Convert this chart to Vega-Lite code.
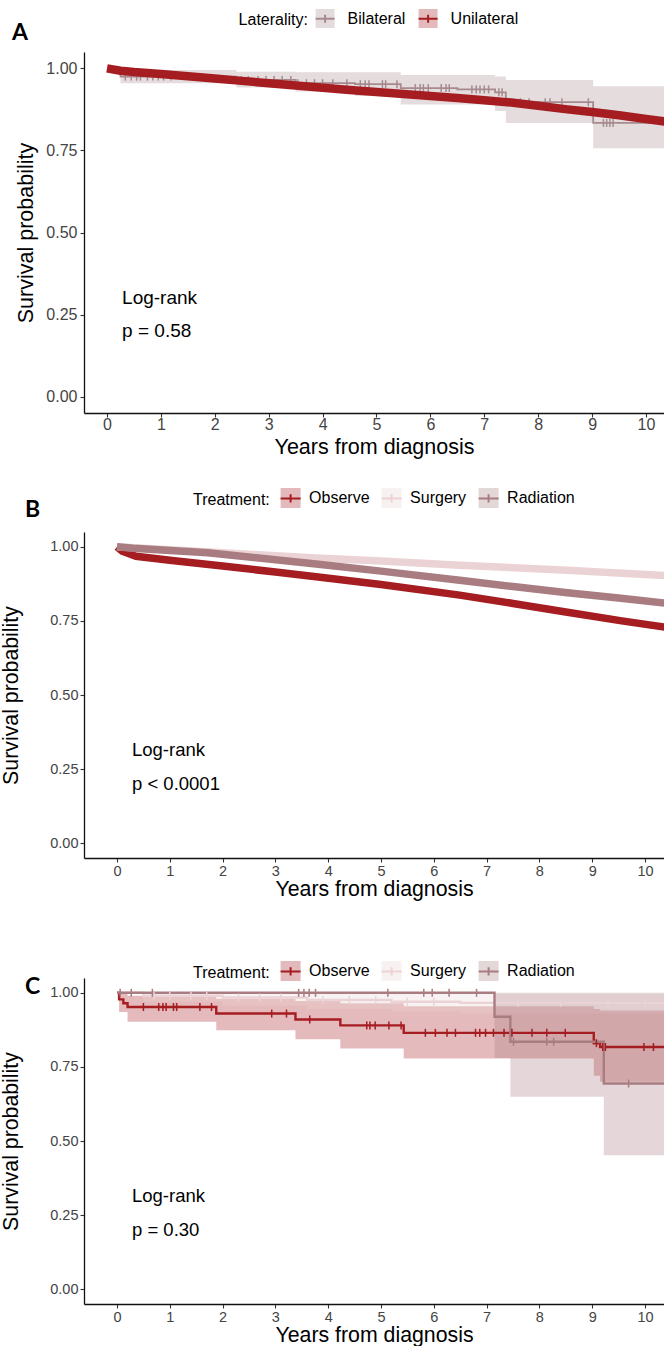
{
  "$schema": "https://vega.github.io/schema/vega-lite/v6.json",
  "background": "white",
  "padding": {"left": 0, "top": 8, "right": 0, "bottom": 0},
  "spacing": 29,
  "config": {
    "font": "Liberation Sans",
    "view": {"stroke": null},
    "axis": {"grid": false, "domainColor": "#111", "domainWidth": 1.3, "tickColor": "#333", "tickWidth": 1.1, "tickSize": 4, "labelColor": "#444", "titleColor": "#000", "titleFontWeight": "normal", "labelOverlap": false, "labelFlush": false},
    "legend": {"labelFont": "Liberation Sans", "titleFont": "Liberation Sans"}
  },
  "resolve": {"scale": {"fill": "independent", "stroke": "independent", "x": "independent", "y": "independent"}, "legend": {"fill": "independent", "stroke": "independent"}},
  "datasets": {
    "aBand": [
      {"g": "Bilateral", "t": 0, "lo": 1, "hi": 1},
      {"g": "Bilateral", "t": 0.25, "lo": 0.955, "hi": 0.995},
      {"g": "Bilateral", "t": 2.4, "lo": 0.942, "hi": 0.99},
      {"g": "Bilateral", "t": 3.5, "lo": 0.93, "hi": 0.988},
      {"g": "Bilateral", "t": 4.6, "lo": 0.916, "hi": 0.988},
      {"g": "Bilateral", "t": 5.45, "lo": 0.89, "hi": 0.98},
      {"g": "Bilateral", "t": 7.2, "lo": 0.87, "hi": 0.975},
      {"g": "Bilateral", "t": 7.4, "lo": 0.834, "hi": 0.965},
      {"g": "Bilateral", "t": 9.02, "lo": 0.757, "hi": 0.946},
      {"g": "Bilateral", "t": 10.6, "lo": 0.757, "hi": 0.946},
      {"g": "Unilateral", "t": 0, "lo": 1, "hi": 1}
    ],
    "aBil": [
      {"g": "Bilateral", "t": 0, "s": 1.0},
      {"g": "Bilateral", "t": 0.25, "s": 0.975},
      {"g": "Bilateral", "t": 2.4, "s": 0.965},
      {"g": "Bilateral", "t": 3.5, "s": 0.955},
      {"g": "Bilateral", "t": 4.6, "s": 0.952},
      {"g": "Bilateral", "t": 5.45, "s": 0.94},
      {"g": "Bilateral", "t": 6.5, "s": 0.936},
      {"g": "Bilateral", "t": 7.2, "s": 0.927},
      {"g": "Bilateral", "t": 7.4, "s": 0.897},
      {"g": "Bilateral", "t": 9.02, "s": 0.834},
      {"g": "Bilateral", "t": 10.6, "s": 0.834}
    ],
    "aCens": [
      {"g": "Bilateral", "t": 0.34, "s": 0.975}, {"g": "Bilateral", "t": 0.45, "s": 0.975}, {"g": "Bilateral", "t": 0.55, "s": 0.975},
      {"g": "Bilateral", "t": 0.62, "s": 0.975}, {"g": "Bilateral", "t": 0.75, "s": 0.975}, {"g": "Bilateral", "t": 0.85, "s": 0.975},
      {"g": "Bilateral", "t": 0.95, "s": 0.975}, {"g": "Bilateral", "t": 1.05, "s": 0.975}, {"g": "Bilateral", "t": 1.19, "s": 0.975},
      {"g": "Bilateral", "t": 2.49, "s": 0.965}, {"g": "Bilateral", "t": 2.62, "s": 0.965}, {"g": "Bilateral", "t": 2.8, "s": 0.965},
      {"g": "Bilateral", "t": 2.95, "s": 0.965}, {"g": "Bilateral", "t": 3.1, "s": 0.965}, {"g": "Bilateral", "t": 3.25, "s": 0.965},
      {"g": "Bilateral", "t": 3.41, "s": 0.965},
      {"g": "Bilateral", "t": 3.54, "s": 0.955}, {"g": "Bilateral", "t": 3.7, "s": 0.955}, {"g": "Bilateral", "t": 3.85, "s": 0.955},
      {"g": "Bilateral", "t": 4.0, "s": 0.955}, {"g": "Bilateral", "t": 4.19, "s": 0.955}, {"g": "Bilateral", "t": 4.45, "s": 0.955},
      {"g": "Bilateral", "t": 4.7, "s": 0.952}, {"g": "Bilateral", "t": 4.79, "s": 0.952}, {"g": "Bilateral", "t": 4.86, "s": 0.952},
      {"g": "Bilateral", "t": 5.11, "s": 0.952}, {"g": "Bilateral", "t": 5.17, "s": 0.952}, {"g": "Bilateral", "t": 5.38, "s": 0.952},
      {"g": "Bilateral", "t": 5.72, "s": 0.94}, {"g": "Bilateral", "t": 5.81, "s": 0.94}, {"g": "Bilateral", "t": 5.87, "s": 0.94},
      {"g": "Bilateral", "t": 5.96, "s": 0.94}, {"g": "Bilateral", "t": 6.2, "s": 0.94}, {"g": "Bilateral", "t": 6.29, "s": 0.94},
      {"g": "Bilateral", "t": 6.35, "s": 0.94},
      {"g": "Bilateral", "t": 6.77, "s": 0.936}, {"g": "Bilateral", "t": 6.85, "s": 0.936}, {"g": "Bilateral", "t": 6.92, "s": 0.936},
      {"g": "Bilateral", "t": 7.0, "s": 0.936}, {"g": "Bilateral", "t": 7.08, "s": 0.936},
      {"g": "Bilateral", "t": 7.27, "s": 0.927}, {"g": "Bilateral", "t": 7.33, "s": 0.927},
      {"g": "Bilateral", "t": 7.67, "s": 0.897}, {"g": "Bilateral", "t": 7.83, "s": 0.897}, {"g": "Bilateral", "t": 8.13, "s": 0.897},
      {"g": "Bilateral", "t": 8.22, "s": 0.897}, {"g": "Bilateral", "t": 8.44, "s": 0.897}, {"g": "Bilateral", "t": 8.93, "s": 0.897},
      {"g": "Bilateral", "t": 9.21, "s": 0.834}, {"g": "Bilateral", "t": 9.27, "s": 0.834}, {"g": "Bilateral", "t": 9.33, "s": 0.834},
      {"g": "Bilateral", "t": 9.39, "s": 0.834}
    ],
    "aUni": [
      {"g": "Unilateral", "t": 0, "s": 1.0}, {"g": "Unilateral", "t": 0.25, "s": 0.993}, {"g": "Unilateral", "t": 0.5, "s": 0.989},
      {"g": "Unilateral", "t": 1.0, "s": 0.983}, {"g": "Unilateral", "t": 1.5, "s": 0.976}, {"g": "Unilateral", "t": 2.0, "s": 0.969},
      {"g": "Unilateral", "t": 2.5, "s": 0.962}, {"g": "Unilateral", "t": 3.0, "s": 0.955}, {"g": "Unilateral", "t": 3.5, "s": 0.948},
      {"g": "Unilateral", "t": 4.0, "s": 0.941}, {"g": "Unilateral", "t": 4.5, "s": 0.934}, {"g": "Unilateral", "t": 5.0, "s": 0.928},
      {"g": "Unilateral", "t": 5.5, "s": 0.922}, {"g": "Unilateral", "t": 6.0, "s": 0.916}, {"g": "Unilateral", "t": 6.5, "s": 0.91},
      {"g": "Unilateral", "t": 7.0, "s": 0.903}, {"g": "Unilateral", "t": 7.5, "s": 0.896}, {"g": "Unilateral", "t": 8.0, "s": 0.886},
      {"g": "Unilateral", "t": 8.5, "s": 0.876}, {"g": "Unilateral", "t": 9.0, "s": 0.867}, {"g": "Unilateral", "t": 9.5, "s": 0.857},
      {"g": "Unilateral", "t": 10.0, "s": 0.846}, {"g": "Unilateral", "t": 10.5, "s": 0.835}
    ],
    "bBand": [
      {"g": "Observe", "ord": 1, "t": 0, "lo": 1, "hi": 1},
      {"g": "Surgery", "ord": 2, "t": 0, "lo": 1, "hi": 1},
      {"g": "Radiation", "ord": 3, "t": 0, "lo": 1, "hi": 1}
    ],
    "bLine": [
      {"g": "Observe", "t": 0, "s": 1.0}, {"g": "Observe", "t": 0.1, "s": 0.985}, {"g": "Observe", "t": 0.36, "s": 0.968},
      {"g": "Observe", "t": 1.04, "s": 0.954}, {"g": "Observe", "t": 2, "s": 0.935}, {"g": "Observe", "t": 3, "s": 0.915},
      {"g": "Observe", "t": 3.77, "s": 0.899}, {"g": "Observe", "t": 5, "s": 0.873}, {"g": "Observe", "t": 6.49, "s": 0.837},
      {"g": "Observe", "t": 7.5, "s": 0.809}, {"g": "Observe", "t": 8.53, "s": 0.779}, {"g": "Observe", "t": 9.56, "s": 0.75},
      {"g": "Observe", "t": 10.5, "s": 0.726},
      {"g": "Surgery", "t": 0, "s": 1.0}, {"g": "Surgery", "t": 1, "s": 0.99}, {"g": "Surgery", "t": 2, "s": 0.98},
      {"g": "Surgery", "t": 3.77, "s": 0.962}, {"g": "Surgery", "t": 5, "s": 0.952}, {"g": "Surgery", "t": 6.49, "s": 0.938},
      {"g": "Surgery", "t": 8.53, "s": 0.921}, {"g": "Surgery", "t": 10.5, "s": 0.902},
      {"g": "Radiation", "t": 0, "s": 1.0}, {"g": "Radiation", "t": 0.3, "s": 0.995}, {"g": "Radiation", "t": 1.72, "s": 0.98},
      {"g": "Radiation", "t": 3.77, "s": 0.942}, {"g": "Radiation", "t": 5, "s": 0.918}, {"g": "Radiation", "t": 6.49, "s": 0.887},
      {"g": "Radiation", "t": 7.5, "s": 0.866}, {"g": "Radiation", "t": 8.53, "s": 0.845}, {"g": "Radiation", "t": 9.5, "s": 0.827},
      {"g": "Radiation", "t": 10.5, "s": 0.808}
    ],
    "cBand": [
      {"g": "Observe", "ord": 1, "t": 0, "lo": 1, "hi": 1},
      {"g": "Observe", "ord": 1, "t": 0.04, "lo": 0.935, "hi": 1.0},
      {"g": "Observe", "ord": 1, "t": 0.2, "lo": 0.902, "hi": 0.99},
      {"g": "Observe", "ord": 1, "t": 1.88, "lo": 0.874, "hi": 0.98},
      {"g": "Observe", "ord": 1, "t": 3.38, "lo": 0.843, "hi": 0.972},
      {"g": "Observe", "ord": 1, "t": 4.23, "lo": 0.812, "hi": 0.965},
      {"g": "Observe", "ord": 1, "t": 5.43, "lo": 0.778, "hi": 0.955},
      {"g": "Observe", "ord": 1, "t": 9.03, "lo": 0.72, "hi": 0.945},
      {"g": "Observe", "ord": 1, "t": 9.15, "lo": 0.7, "hi": 0.94},
      {"g": "Observe", "ord": 1, "t": 10.6, "lo": 0.7, "hi": 0.94},
      {"g": "Surgery", "ord": 2, "t": 0, "lo": 1, "hi": 1},
      {"g": "Surgery", "ord": 2, "t": 0.5, "lo": 0.97, "hi": 1.0},
      {"g": "Surgery", "ord": 2, "t": 2.0, "lo": 0.957, "hi": 1.0},
      {"g": "Surgery", "ord": 2, "t": 3.6, "lo": 0.945, "hi": 0.998},
      {"g": "Surgery", "ord": 2, "t": 5.2, "lo": 0.937, "hi": 0.996},
      {"g": "Surgery", "ord": 2, "t": 6.5, "lo": 0.93, "hi": 0.995},
      {"g": "Surgery", "ord": 2, "t": 10.6, "lo": 0.93, "hi": 0.995},
      {"g": "Radiation", "ord": 3, "t": 0, "lo": 1, "hi": 1},
      {"g": "Radiation", "ord": 3, "t": 7.15, "lo": 0.78, "hi": 1.0},
      {"g": "Radiation", "ord": 3, "t": 7.45, "lo": 0.649, "hi": 1.0},
      {"g": "Radiation", "ord": 3, "t": 9.22, "lo": 0.452, "hi": 1.0},
      {"g": "Radiation", "ord": 3, "t": 10.6, "lo": 0.452, "hi": 1.0}
    ],
    "cLine": [
      {"g": "Observe", "t": 0, "s": 1.0}, {"g": "Observe", "t": 0.04, "s": 0.978}, {"g": "Observe", "t": 0.12, "s": 0.965},
      {"g": "Observe", "t": 0.2, "s": 0.952}, {"g": "Observe", "t": 1.88, "s": 0.93}, {"g": "Observe", "t": 3.38, "s": 0.91},
      {"g": "Observe", "t": 4.23, "s": 0.89}, {"g": "Observe", "t": 5.43, "s": 0.865}, {"g": "Observe", "t": 9.03, "s": 0.83},
      {"g": "Observe", "t": 9.15, "s": 0.817}, {"g": "Observe", "t": 10.6, "s": 0.817},
      {"g": "Surgery", "t": 0, "s": 1.0}, {"g": "Surgery", "t": 0.5, "s": 0.99}, {"g": "Surgery", "t": 2.0, "s": 0.984},
      {"g": "Surgery", "t": 3.6, "s": 0.976}, {"g": "Surgery", "t": 5.2, "s": 0.97}, {"g": "Surgery", "t": 6.5, "s": 0.966},
      {"g": "Surgery", "t": 10.6, "s": 0.966},
      {"g": "Radiation", "t": 0, "s": 1.0}, {"g": "Radiation", "t": 7.15, "s": 0.919}, {"g": "Radiation", "t": 7.45, "s": 0.835},
      {"g": "Radiation", "t": 9.22, "s": 0.694}, {"g": "Radiation", "t": 10.6, "s": 0.694}
    ],
    "cCens": [
      {"g": "Observe", "t": 0.5, "s": 0.952}, {"g": "Observe", "t": 0.79, "s": 0.952}, {"g": "Observe", "t": 0.87, "s": 0.952},
      {"g": "Observe", "t": 0.93, "s": 0.952}, {"g": "Observe", "t": 1.07, "s": 0.952}, {"g": "Observe", "t": 1.13, "s": 0.952},
      {"g": "Observe", "t": 1.57, "s": 0.952}, {"g": "Observe", "t": 1.79, "s": 0.952},
      {"g": "Observe", "t": 2.93, "s": 0.93}, {"g": "Observe", "t": 3.21, "s": 0.93},
      {"g": "Observe", "t": 3.65, "s": 0.91},
      {"g": "Observe", "t": 4.73, "s": 0.89}, {"g": "Observe", "t": 4.79, "s": 0.89}, {"g": "Observe", "t": 4.89, "s": 0.89},
      {"g": "Observe", "t": 5.15, "s": 0.89}, {"g": "Observe", "t": 5.38, "s": 0.89},
      {"g": "Observe", "t": 5.84, "s": 0.865}, {"g": "Observe", "t": 6.03, "s": 0.865}, {"g": "Observe", "t": 6.25, "s": 0.865},
      {"g": "Observe", "t": 6.41, "s": 0.865}, {"g": "Observe", "t": 6.79, "s": 0.865}, {"g": "Observe", "t": 6.87, "s": 0.865},
      {"g": "Observe", "t": 6.98, "s": 0.865}, {"g": "Observe", "t": 7.13, "s": 0.865}, {"g": "Observe", "t": 7.33, "s": 0.865},
      {"g": "Observe", "t": 7.48, "s": 0.865}, {"g": "Observe", "t": 7.86, "s": 0.865}, {"g": "Observe", "t": 8.14, "s": 0.865},
      {"g": "Observe", "t": 8.49, "s": 0.865},
      {"g": "Observe", "t": 9.08, "s": 0.83},
      {"g": "Observe", "t": 9.2, "s": 0.817}, {"g": "Observe", "t": 9.25, "s": 0.817}, {"g": "Observe", "t": 9.98, "s": 0.817},
      {"g": "Observe", "t": 10.16, "s": 0.817},
      {"g": "Surgery", "t": 0.7, "s": 0.99}, {"g": "Surgery", "t": 1.0, "s": 0.99}, {"g": "Surgery", "t": 1.4, "s": 0.99},
      {"g": "Surgery", "t": 1.7, "s": 0.99}, {"g": "Surgery", "t": 2.3, "s": 0.984}, {"g": "Surgery", "t": 2.7, "s": 0.984},
      {"g": "Surgery", "t": 3.1, "s": 0.984}, {"g": "Surgery", "t": 3.9, "s": 0.976}, {"g": "Surgery", "t": 4.4, "s": 0.976},
      {"g": "Surgery", "t": 4.9, "s": 0.976}, {"g": "Surgery", "t": 5.5, "s": 0.97}, {"g": "Surgery", "t": 6.0, "s": 0.97},
      {"g": "Surgery", "t": 7.6, "s": 0.966}, {"g": "Surgery", "t": 8.4, "s": 0.966}, {"g": "Surgery", "t": 9.3, "s": 0.966},
      {"g": "Surgery", "t": 10.0, "s": 0.966},
      {"g": "Radiation", "t": 0.06, "s": 1.0}, {"g": "Radiation", "t": 0.27, "s": 1.0}, {"g": "Radiation", "t": 0.67, "s": 1.0},
      {"g": "Radiation", "t": 3.44, "s": 1.0}, {"g": "Radiation", "t": 3.54, "s": 1.0}, {"g": "Radiation", "t": 3.64, "s": 1.0},
      {"g": "Radiation", "t": 3.76, "s": 1.0}, {"g": "Radiation", "t": 5.13, "s": 1.0}, {"g": "Radiation", "t": 5.81, "s": 1.0},
      {"g": "Radiation", "t": 5.97, "s": 1.0}, {"g": "Radiation", "t": 6.29, "s": 1.0}, {"g": "Radiation", "t": 6.81, "s": 1.0},
      {"g": "Radiation", "t": 7.51, "s": 0.835}, {"g": "Radiation", "t": 8.14, "s": 0.835}, {"g": "Radiation", "t": 8.27, "s": 0.835},
      {"g": "Radiation", "t": 9.69, "s": 0.694}
    ]
  },
  "vconcat": [
    {
      "width": 580, "height": 361,
      "title": {"text": "A", "anchor": "start", "frame": "group", "orient": "top", "fontSize": 23, "fontWeight": "bold", "font": "Lato", "color": "#000", "baseline": "alphabetic", "offset": -55, "dx": -72},
      "layer": [
        {
          "data": {"name": "aBand"},
          "mark": {"type": "area", "interpolate": "step-after", "fillOpacity": 0.3, "clip": true},
          "encoding": {
            "x": {"field": "t", "type": "quantitative", "title": "Years from diagnosis", "scale": {"domain": [-0.4267, 10.334], "nice": false, "zero": false},
                  "axis": {"values": [0,1,2,3,4,5,6,7,8,9,10], "labelFontSize": 16, "titleFontSize": 21.5, "labelPadding": -1, "titlePadding": 4.4}},
            "y": {"field": "lo", "type": "quantitative", "title": "Survival probability", "scale": {"domain": [-0.05, 1.05], "nice": false, "zero": false},
                  "axis": {"values": [0, 0.25, 0.5, 0.75, 1], "format": ".2f", "labelFontSize": 16, "titleFontSize": 21.5, "labelPadding": 3, "titlePadding": 8}},
            "y2": {"field": "hi"},
            "fill": {"field": "g", "type": "nominal", "scale": {"range": ["#A78A8E", "#A51C21"]},
                     "legend": {"orient": "none", "legendX": 154.6, "legendY": -44, "direction": "horizontal", "title": "Laterality:", "titleOrient": "left", "titlePadding": 6, "titleFontSize": 16, "titleFontWeight": "normal", "titleColor": "#000", "labelFontSize": 16, "labelColor": "#000", "labelOffset": 12, "columnPadding": 9, "symbolType": "square", "symbolSize": 361, "symbolOpacity": 0.3, "symbolStrokeColor": "transparent", "symbolStrokeWidth": 2, "padding": 0}}
          }
        },
        {
          "data": {"name": "aBil"},
          "mark": {"type": "line", "interpolate": "step-after", "strokeWidth": 1.8, "clip": true},
          "encoding": {
            "x": {"field": "t", "type": "quantitative", "title": "Years from diagnosis"},
            "y": {"field": "s", "type": "quantitative", "title": "Survival probability"},
            "stroke": {"field": "g", "type": "nominal", "scale": {"domain": ["Bilateral", "Unilateral"], "range": ["#A78A8E", "#A51C21"]},
                       "legend": {"orient": "none", "legendX": 154.6, "legendY": -44, "direction": "horizontal", "title": "Laterality:", "titleOrient": "left", "titlePadding": 6, "titleFontSize": 16, "titleFontWeight": "normal", "titleColor": "transparent", "labelFontSize": 16, "labelColor": "transparent", "labelOffset": 12, "columnPadding": 9, "symbolType": "M-1,0H1M0,-0.42V0.42", "symbolSize": 361, "symbolOpacity": 1, "symbolFillColor": "transparent", "symbolStrokeWidth": 2, "padding": 0}}
          }
        },
        {
          "data": {"name": "aCens"},
          "mark": {"type": "point", "shape": "M0,-1V1", "filled": false, "size": 64, "strokeWidth": 1.5, "opacity": 1, "clip": true},
          "encoding": {
            "x": {"field": "t", "type": "quantitative", "title": "Years from diagnosis"},
            "y": {"field": "s", "type": "quantitative", "title": "Survival probability"},
            "stroke": {"field": "g", "type": "nominal"}
          }
        },
        {
          "data": {"name": "aUni"},
          "mark": {"type": "line", "strokeWidth": 8.5, "strokeCap": "butt", "clip": true},
          "encoding": {
            "x": {"field": "t", "type": "quantitative", "title": "Years from diagnosis"},
            "y": {"field": "s", "type": "quantitative", "title": "Survival probability"},
            "stroke": {"field": "g", "type": "nominal"}
          }
        },
        {
          "data": {"values": [{"t": 0.28, "s": 0.3, "label": "Log-rank"}, {"t": 0.28, "s": 0.2, "label": "p = 0.58"}]},
          "mark": {"type": "text", "align": "left", "baseline": "middle", "fontSize": 19, "color": "#000"},
          "encoding": {
            "x": {"field": "t", "type": "quantitative", "title": "Years from diagnosis"},
            "y": {"field": "s", "type": "quantitative", "title": "Survival probability"},
            "text": {"field": "label"}
          }
        }
      ]
    },
    {
      "width": 580, "height": 326,
      "title": {"text": "B", "anchor": "start", "frame": "group", "orient": "top", "fontSize": 23, "fontWeight": "bold", "font": "Lato", "color": "#000", "baseline": "alphabetic", "offset": -53, "dx": -59},
      "layer": [
        {
          "data": {"name": "bBand"},
          "mark": {"type": "area", "fillOpacity": 0.3, "clip": true},
          "encoding": {
            "x": {"field": "t", "type": "quantitative", "title": "Years from diagnosis", "scale": {"domain": [-0.625, 10.36], "nice": false, "zero": false},
                  "axis": {"values": [0,1,2,3,4,5,6,7,8,9,10], "labelFontSize": 14.5, "titleFontSize": 21.3, "labelPadding": 2, "titlePadding": 0.5}},
            "y": {"field": "lo", "type": "quantitative", "title": "Survival probability", "scale": {"domain": [-0.05, 1.05], "nice": false, "zero": false},
                  "axis": {"values": [0, 0.25, 0.5, 0.75, 1], "format": ".2f", "labelFontSize": 14.5, "titleFontSize": 21.3, "labelPadding": 2, "titlePadding": 28.5}},
            "y2": {"field": "hi"},
            "fill": {"field": "g", "type": "nominal", "sort": {"field": "ord", "op": "min"}, "scale": {"range": ["#A51C21", "#EBD3D5", "#A87C80"]},
                     "legend": {"orient": "none", "legendX": 109, "legendY": -45, "direction": "horizontal", "title": "Treatment:", "titleOrient": "left", "titlePadding": 9.6, "titleFontSize": 16, "titleFontWeight": "normal", "titleColor": "#000", "labelFontSize": 16, "labelColor": "#000", "labelOffset": 7.5, "columnPadding": 8, "symbolType": "square", "symbolSize": 400, "symbolOpacity": 0.3, "symbolStrokeColor": "transparent", "symbolStrokeWidth": 2, "padding": 0}}
          }
        },
        {
          "data": {"name": "bLine"},
          "mark": {"type": "line", "strokeWidth": 7.5, "strokeCap": "butt", "clip": true},
          "encoding": {
            "x": {"field": "t", "type": "quantitative", "title": "Years from diagnosis"},
            "y": {"field": "s", "type": "quantitative", "title": "Survival probability"},
            "stroke": {"field": "g", "type": "nominal", "scale": {"domain": ["Observe", "Surgery", "Radiation"], "range": ["#A51C21", "#EBD3D5", "#A87C80"]},
                       "legend": {"orient": "none", "legendX": 109, "legendY": -45, "direction": "horizontal", "title": "Treatment:", "titleOrient": "left", "titlePadding": 9.6, "titleFontSize": 16, "titleFontWeight": "normal", "titleColor": "transparent", "labelFontSize": 16, "labelColor": "transparent", "labelOffset": 7.5, "columnPadding": 8, "symbolType": "M-1,0H1M0,-0.42V0.42", "symbolSize": 400, "symbolOpacity": 1, "symbolFillColor": "transparent", "symbolStrokeWidth": 2, "padding": 0}}
          }
        },
        {
          "data": {"values": [{"t": 0.284, "s": 0.314, "label": "Log-rank"}, {"t": 0.284, "s": 0.2, "label": "p < 0.0001"}]},
          "mark": {"type": "text", "align": "left", "baseline": "middle", "fontSize": 18.5, "color": "#000"},
          "encoding": {
            "x": {"field": "t", "type": "quantitative", "title": "Years from diagnosis"},
            "y": {"field": "s", "type": "quantitative", "title": "Survival probability"},
            "text": {"field": "label"}
          }
        }
      ]
    },
    {
      "width": 580, "height": 326,
      "title": {"text": "C", "anchor": "start", "frame": "group", "orient": "top", "fontSize": 23, "fontWeight": "bold", "font": "Lato", "color": "#000", "baseline": "alphabetic", "offset": -88, "dx": -59},
      "layer": [
        {
          "data": {"name": "cBand"},
          "mark": {"type": "area", "interpolate": "step-after", "fillOpacity": 0.3, "clip": true},
          "encoding": {
            "x": {"field": "t", "type": "quantitative", "title": "Years from diagnosis", "scale": {"domain": [-0.625, 10.36], "nice": false, "zero": false},
                  "axis": {"values": [0,1,2,3,4,5,6,7,8,9,10], "labelFontSize": 14.5, "titleFontSize": 21.3, "labelPadding": 2, "titlePadding": 0.5}},
            "y": {"field": "lo", "type": "quantitative", "title": "Survival probability", "scale": {"domain": [-0.05, 1.05], "nice": false, "zero": false},
                  "axis": {"values": [0, 0.25, 0.5, 0.75, 1], "format": ".2f", "labelFontSize": 14.5, "titleFontSize": 21.3, "labelPadding": 2, "titlePadding": 28.5}},
            "y2": {"field": "hi"},
            "fill": {"field": "g", "type": "nominal", "sort": {"field": "ord", "op": "min"}, "scale": {"range": ["#A51C21", "#EBD3D5", "#A87C80"]},
                     "legend": {"orient": "none", "legendX": 78.1, "legendY": -48.9, "direction": "horizontal", "title": "Treatment:", "titleOrient": "left", "titlePadding": 9.6, "titleFontSize": 16, "titleFontWeight": "normal", "titleColor": "#000", "labelFontSize": 16, "labelColor": "#000", "labelOffset": 7.5, "columnPadding": 8, "symbolType": "square", "symbolSize": 400, "symbolOpacity": 0.3, "symbolStrokeColor": "transparent", "symbolStrokeWidth": 2, "padding": 30.9}}
          }
        },
        {
          "data": {"name": "cLine"},
          "mark": {"type": "line", "interpolate": "step-after", "strokeWidth": 2.4, "clip": true},
          "encoding": {
            "x": {"field": "t", "type": "quantitative", "title": "Years from diagnosis"},
            "y": {"field": "s", "type": "quantitative", "title": "Survival probability"},
            "stroke": {"field": "g", "type": "nominal", "scale": {"domain": ["Observe", "Surgery", "Radiation"], "range": ["#A51C21", "#EBD3D5", "#A87C80"]},
                       "legend": {"orient": "none", "legendX": 78.1, "legendY": -48.9, "direction": "horizontal", "title": "Treatment:", "titleOrient": "left", "titlePadding": 9.6, "titleFontSize": 16, "titleFontWeight": "normal", "titleColor": "transparent", "labelFontSize": 16, "labelColor": "transparent", "labelOffset": 7.5, "columnPadding": 8, "symbolType": "M-1,0H1M0,-0.42V0.42", "symbolSize": 400, "symbolOpacity": 1, "symbolFillColor": "transparent", "symbolStrokeWidth": 2, "padding": 30.9}}
          }
        },
        {
          "data": {"name": "cCens"},
          "mark": {"type": "point", "shape": "M0,-1V1", "filled": false, "size": 64, "strokeWidth": 1.5, "opacity": 1, "clip": true},
          "encoding": {
            "x": {"field": "t", "type": "quantitative", "title": "Years from diagnosis"},
            "y": {"field": "s", "type": "quantitative", "title": "Survival probability"},
            "stroke": {"field": "g", "type": "nominal"}
          }
        },
        {
          "data": {"values": [{"t": 0.284, "s": 0.314, "label": "Log-rank"}, {"t": 0.284, "s": 0.2, "label": "p = 0.30"}]},
          "mark": {"type": "text", "align": "left", "baseline": "middle", "fontSize": 18.5, "color": "#000"},
          "encoding": {
            "x": {"field": "t", "type": "quantitative", "title": "Years from diagnosis"},
            "y": {"field": "s", "type": "quantitative", "title": "Survival probability"},
            "text": {"field": "label"}
          }
        }
      ]
    }
  ]
}
